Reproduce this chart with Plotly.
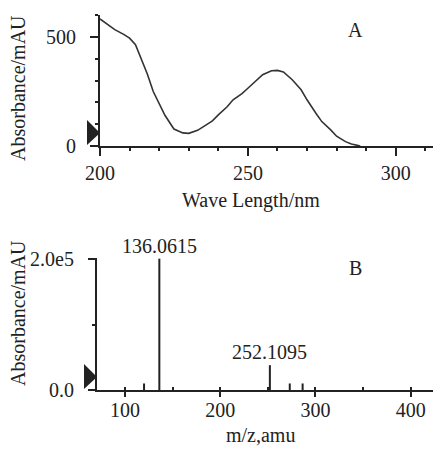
import plotly.graph_objects as go

# Panel A: UV spectrum
wavelength = [200, 203, 205, 208, 210, 212, 214, 216, 218, 220, 222, 225, 228, 230, 233, 235, 238, 240, 243,
              245, 248, 250, 253, 255, 258, 260, 262, 265, 268, 270, 273, 275, 278, 280, 283, 285, 287, 288]
absorbance = [583, 555, 534, 512, 495, 465, 400, 330, 250, 196, 140, 78, 60, 58, 72, 89, 115, 143, 180,
              212, 240, 265, 300, 327, 345, 347, 340, 304, 258, 212, 150, 112, 74, 45, 20, 9, 3, 0]

# Panel B: mass spectrum
mz = [120, 136.0615, 252.1095, 273, 286.5]
intensity = [10000, 201000, 38000, 10000, 10000]
peak_labels = ["", "136.0615", "252.1095", "", ""]

OFF = 8                     # page body margin
W, H = 441 - OFF, 451 - OFF
FONT = "Liberation Serif"
INK = "#222222"

def px(xp):
    return (xp - OFF) / W

def py(yp):
    return 1 - (yp - OFF) / H

fig = go.Figure()

fig.add_trace(go.Scatter(x=wavelength, y=absorbance, mode="lines",
                         line=dict(color="#333333", width=1.6),
                         xaxis="x", yaxis="y", showlegend=False))

# stick spectrum from the data
sx, sy = [], []
for m, h in zip(mz, intensity):
    sx += [m, m, None]
    sy += [0, h, None]
fig.add_trace(go.Scatter(x=sx, y=sy, mode="lines", line=dict(color=INK, width=2),
                         xaxis="x2", yaxis="y2", showlegend=False))

axis_common = dict(showgrid=False, zeroline=False, showline=True, linecolor=INK, linewidth=2,
                   ticks="outside", tickcolor=INK, tickwidth=2, automargin=False,
                   tickfont=dict(family=FONT, size=20, color=INK))

fig.update_layout(
    width=W, height=H, autosize=False,
    margin=dict(l=0, r=0, t=0, b=0, pad=0, autoexpand=False),
    plot_bgcolor="white", paper_bgcolor="white",
    xaxis=dict(domain=[px(100), 1], range=[200, 315.3], anchor="y",
               tickvals=[200, 250, 300], ticklen=8,
               minor=dict(dtick=10, tick0=200, ticks="outside", ticklen=3, tickwidth=1.5, tickcolor=INK),
               **axis_common),
    yaxis=dict(domain=[py(146), py(15)], range=[0, 601], anchor="x",
               tickvals=[0, 500], ticklen=8, ticklabelstandoff=10,
               minor=dict(dtick=100, tick0=0, ticks="outside", ticklen=3, tickwidth=1.5, tickcolor=INK),
               **axis_common),
    xaxis2=dict(domain=[px(97), 1], range=[70.6, 431.8], anchor="y2",
                tickvals=[100, 200, 300, 400], ticklen=5, ticklabelstandoff=-4,
                minor=dict(dtick=50, tick0=0, ticks="inside", ticklen=3, tickwidth=1.5, tickcolor=INK),
                **axis_common),
    yaxis2=dict(domain=[py(390), py(258)], range=[0, 202000], anchor="x2",
                tickvals=[0, 200000], ticktext=["0.0", "2.0e5"], ticklen=7, ticklabelstandoff=10,
                minor=dict(dtick=100000, tick0=0, ticks="outside", ticklen=3, tickwidth=1.5, tickcolor=INK),
                **axis_common),
)

def label(text, xp, yp, size=20, angle=0):
    return dict(text=text, x=px(xp), y=py(yp), xref="paper", yref="paper", textangle=angle,
                xanchor="center", yanchor="middle", showarrow=False,
                font=dict(family=FONT, size=size, color=INK))

annotations = [
    label("Absorbance/mAU", 18, 88, angle=-90),
    label("Absorbance/mAU", 18, 313, angle=-90),
    label("Wave Length/nm", 251, 200),
    label("m/z,amu", 260, 435),
    label("A", 355, 30),
    label("B", 355, 268),
]
for m, h, lab in zip(mz, intensity, peak_labels):
    if lab:
        annotations.append(dict(text=lab, x=m, y=h, xref="x2", yref="y2", xanchor="center",
                                yanchor="bottom", yshift=0, showarrow=False,
                                font=dict(family=FONT, size=20, color=INK)))
fig.update_layout(annotations=annotations)

# offset markers (triangles) just left of each y axis
tri = "M -13,1 L -13,26 L 0,13 Z"
fig.update_layout(shapes=[
    dict(type="path", xref="paper", yref="paper", xsizemode="pixel", ysizemode="pixel",
         xanchor=px(100), yanchor=py(146), path=tri, fillcolor="#222222", line=dict(width=0)),
    dict(type="path", xref="paper", yref="paper", xsizemode="pixel", ysizemode="pixel",
         xanchor=px(97), yanchor=py(390), path=tri, fillcolor="#222222", line=dict(width=0)),
])

fig.write_html("out.html")
